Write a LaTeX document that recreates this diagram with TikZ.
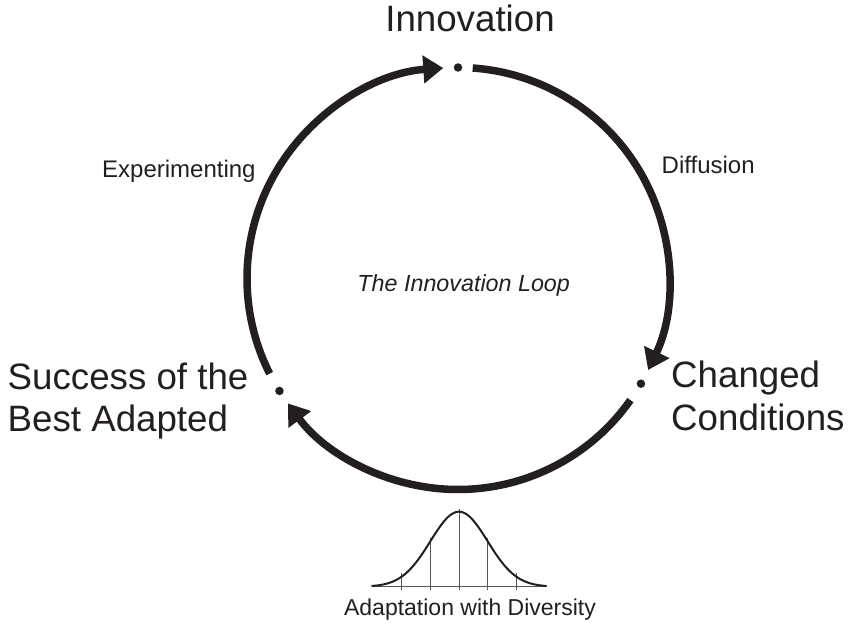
\documentclass[tikz,border=0pt]{standalone}
\usepackage{fontspec}
\setmainfont{Liberation Sans}
\usetikzlibrary{arrows.meta}
\definecolor{ink}{HTML}{231F20}
\definecolor{rule}{HTML}{555555}
\begin{document}
\begin{tikzpicture}[x=1pt,y=1pt,
  loopline/.style={draw=ink, line width=7.5pt, -{Triangle[length=20pt,width=27pt]}},
  dotnode/.style={circle, fill=ink, inner sep=0pt, minimum size=8.5pt},
  bigtext/.style={font=\fontsize{36.7}{42.4}\selectfont, text=ink, inner sep=0pt},
  smalltext/.style={font=\fontsize{23}{27}\selectfont, text=ink, inner sep=0pt},
  bellcurve/.style={draw=ink, line width=2pt},
  bellrule/.style={draw=rule, line width=1.2pt}]
\useasboundingbox (0,0) rectangle (850,625);
\def\R{211pt}
\coordinate (c) at (458,346.5);
% dots
\node[dotnode] (innov) at ([shift={(90:\R)}]c) {};
\node[dotnode] (changed) at ([shift={(-29.9:\R)}]c) {};
\node[dotnode] (success) at ([shift={(212.2:\R)}]c) {};
% loop arcs
\draw[loopline] ([shift={(86:\R)}]c) arc[start angle=86, end angle=-25.7, radius=\R];
\draw[loopline] ([shift={(-35.2:\R)}]c) arc[start angle=-35.2, end angle=-143.7, radius=\R];
\draw[loopline] ([shift={(206.8:\R)}]c) arc[start angle=206.8, end angle=94, radius=\R];
% big labels
\node[bigtext, anchor=base] (tInnov) at (470,593.3) {Innovation};
\node[bigtext, anchor=base west, align=left] (tSuccess) at (7.5,193.3) {Success of the\\Best Adapted};
\node[bigtext, anchor=base west, align=left] (tChanged) at (671,195) {Changed\\Conditions};
% small labels
\node[smalltext, anchor=base west, font=\fontsize{24}{28}\selectfont] (tExp) at (102,447.7) {Experimenting};
\node[smalltext, anchor=base west, font=\fontsize{24}{28}\selectfont] (tDiff) at (661.5,451.7) {Diffusion};
\node[smalltext, anchor=base, font=\fontsize{23.3}{27}\selectfont\itshape] (tLoop) at (463.7,333.3) {The Innovation Loop};
\node[smalltext, anchor=base] (tAdapt) at (470,10) {Adaptation with Diversity};
% bell curve
\coordinate (bl) at (371.7,38.3);
\coordinate (br) at (546.7,38.3);
\draw[bellrule] (bl) -- (br);
\foreach \k in {-2,-1,1,2}{
  \draw[bellrule, line width=1pt] ({459+28.6*\k},35) -- ({459+28.6*\k},{38.3+75*exp(-\k*\k/2)+3.5});
}
\draw[bellrule, line width=1pt] (459,35) -- (459,116.5);
\draw[bellcurve] plot[domain=-3.06:3.06, samples=90, smooth] ({459+28.6*\x},{38.3+75*exp(-\x*\x/2)});
\end{tikzpicture}
\end{document}
